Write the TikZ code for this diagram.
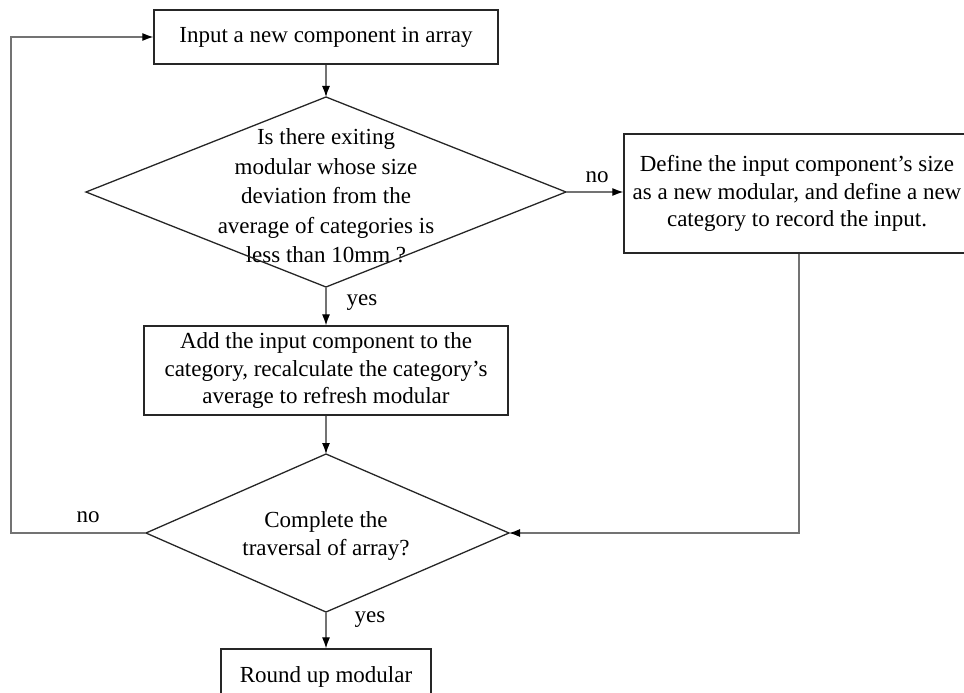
\documentclass[tikz,border=0pt]{standalone}
\usepackage{fontspec}
\setmainfont{Liberation Serif}
\usetikzlibrary{arrows.meta,calc}
\begin{document}
\begin{tikzpicture}[x=1pt,y=-1pt,
  box/.style={draw=black!85,line width=1.3pt,inner sep=0pt,align=center,font=\fontsize{23}{27.5}\selectfont},
  txt/.style={inner sep=0pt,align=center,font=\fontsize{23}{27.5}\selectfont},
  dtxt/.style={inner sep=0pt,align=center,font=\fontsize{23}{29.5}\selectfont},
  shapeline/.style={draw=black!85,line width=1.3pt,line join=miter},
  conn/.style={draw=black!55,line width=1.2pt,-{Latex[length=11pt,width=8pt,black]}},
  lbl/.style={inner sep=0pt,font=\fontsize{23}{27.5}\selectfont}]
\useasboundingbox (0,0) rectangle (964,693);
\clip (0,0) rectangle (964,693);
% boxes
\node[box,minimum width=344,minimum height=54] (top) at (326,37) {Input a new component in array};
\node[box,minimum width=346,minimum height=119] (rb) at (797,193.5) {Define the input component’s size\\as a new modular, and define a new\\category to record the input.};
\node[box,minimum width=364,minimum height=89] (mid) at (326,370.5) {Add the input component to the\\category, recalculate the category’s\\average to refresh modular};
\node[box,minimum width=210,minimum height=56] (bot) at (326,677) {Round up modular};
% diamond 1
\node[dtxt] (d1) at (326,196) {Is there exiting\\modular whose size\\deviation from the\\average of categories is\\less than 10mm ?};
\coordinate (d1t) at (326,97);
\coordinate (d1r) at (566,192);
\coordinate (d1b) at (326,287);
\coordinate (d1l) at (86,192);
\draw[shapeline] (d1t) -- (d1r) -- (d1b) -- (d1l) -- cycle;
% diamond 2
\node[txt] (d2) at (326,536) {Complete the\\traversal of array?};
\coordinate (d2t) at (326,454);
\coordinate (d2r) at (509,533);
\coordinate (d2b) at (326,612);
\coordinate (d2l) at (146,533);
\draw[shapeline] (d2t) -- (d2r) -- (d2b) -- (d2l) -- cycle;
% corners of feedback loops
\coordinate (cl) at (11,533);
\coordinate (cr) at (799,533);
% connectors
\draw[conn] (top.south) -- (d1t);
\draw[conn] (d1b) -- (mid.north);
\draw[conn] (d1r) -- (d1r -| rb.west);
\draw[conn] (mid.south) -- (d2t);
\draw[conn] (rb.south -| cr) -- (cr) -- (d2r);
\draw[conn] (d2l) -- (cl) |- (top.west);
\draw[conn] (d2b) -- (bot.north);
% labels
\node[lbl] (yes1) at (362,303) {yes};
\node[lbl] (no1) at (597,177) {no};
\node[lbl] (no2) at (88,517) {no};
\node[lbl] (yes2) at (370,620) {yes};
\end{tikzpicture}
\end{document}
